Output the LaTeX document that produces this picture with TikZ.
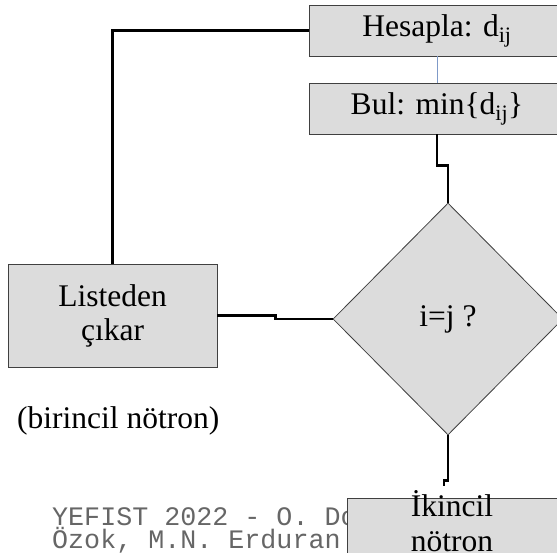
\documentclass[tikz,border=0pt]{standalone}
\usepackage{fontspec}
\setmainfont{Liberation Serif}
\newfontfamily\altyazifont{Liberation Mono}
\usepackage{tikz}
\usetikzlibrary{shapes.geometric}

\definecolor{kutugri}{HTML}{DCDCDC}
\definecolor{incemavi}{HTML}{7F9AC8}
\definecolor{altgri}{HTML}{666666}

\tikzset{
  kutu/.style={draw=black!75, fill=kutugri, line width=0.8pt, inner sep=0pt, align=center},
  baglanti/.style={line width=2.4pt, black},
}

\begin{document}
\begin{tikzpicture}[x=1pt, y=-1pt, font=\fontsize{31.5}{34}\selectfont]
        \clip (0, 0) rectangle (557, 553);

        % The footer, partly hidden by the last box
        \node[anchor=base west, inner sep=0pt, align=left, text=altgri,
              font=\altyazifont\fontsize{26.7}{21}\selectfont] (altyazi) at (52, 548)
              {YEFIST 2022 - O. Do\\Özok, M.N. Erduran};

        % The boxes
        \node[kutu, minimum width=256pt, minimum height=51pt] (hesapla) at (437, 30.5) {Hesapla: d\textsubscript{ij}};
        \node[kutu, minimum width=256pt, minimum height=51pt] (bul) at (437, 108.5) {Bul: min\{d\textsubscript{ij}\}};
        \node[kutu, minimum width=209pt, minimum height=103pt] (liste) at (112.5, 315.5) {Listeden\\çıkar};
        \node[kutu, diamond, minimum width=230pt, minimum height=232pt] (karar) at (448, 319) {i=j ?};
        \node[kutu, minimum width=210pt, minimum height=80pt, anchor=north] (ikincil) at (452, 498) {};
        \node[anchor=north, inner sep=0pt, align=center, font=\fontsize{31.5}{35}\selectfont] (ikinciltext) at (452, 490) {İkincil\\nötron};

        % The free label
        \node[anchor=base west, inner sep=0pt] (birincil) at (17, 428) {(birincil nötron)};

        % The connectors
        \coordinate (son) at (444, 486);
        \draw[incemavi, line width=0.8pt] (hesapla.south) -- (bul.north);
        \draw[baglanti] (bul.south) -- ++(0, 31) -| (karar.north);
        \draw[baglanti] (liste.east) -- ++(58, 0) |- (karar.west);
        \draw[baglanti] (karar.south) -- ++(0, 45) -| (son);
        \draw[baglanti] (liste.north) |- (hesapla.west);
    \end{tikzpicture}
\end{document}
